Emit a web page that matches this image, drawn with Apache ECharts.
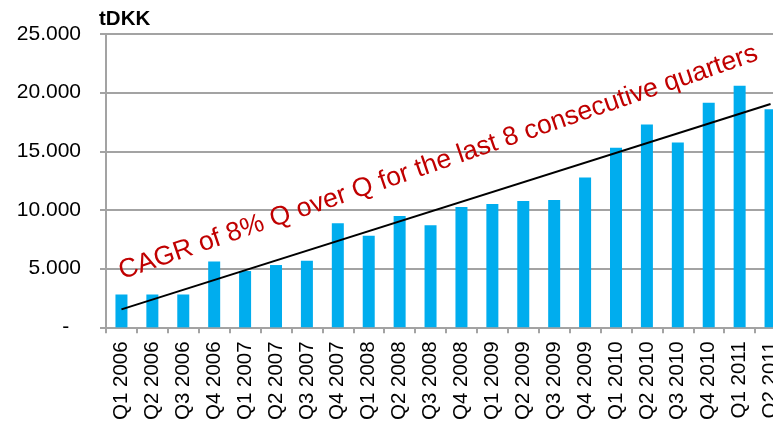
<!DOCTYPE html>
<html>
<head>
<meta charset="utf-8">
<script src="https://cdn.jsdelivr.net/npm/echarts@6/dist/echarts.min.js"></script>
<style>
  html, body { margin: 0; padding: 0; background: #ffffff; overflow: hidden; }
  #chart { width: 790px; height: 423px; }
</style>
</head>
<body>
<div id="chart"></div>
<script>
// Quarterly revenue in thousand DKK
const quarters = [
  'Q1 2006', 'Q2 2006', 'Q3 2006', 'Q4 2006',
  'Q1 2007', 'Q2 2007', 'Q3 2007', 'Q4 2007',
  'Q1 2008', 'Q2 2008', 'Q3 2008', 'Q4 2008',
  'Q1 2009', 'Q2 2009', 'Q3 2009', 'Q4 2009',
  'Q1 2010', 'Q2 2010', 'Q3 2010', 'Q4 2010',
  'Q1 2011', 'Q2 2011'
];
const revenue = [
  2800, 2800, 2800, 5620,
  4800, 5310, 5680, 8870,
  7800, 9490, 8700, 10250,
  10510, 10760, 10850, 12770,
  15310, 17290, 15760, 19150,
  20590, 18590
];
// Linear trend from first to last quarter
const trendStart = 1530;
const trendEnd = 19040;
const yTicks = { min: 0, max: 25000, interval: 5000 };
const unitLabel = 'tDKK';
const annotation = 'CAGR of 8% Q over Q for the last 8 consecutive quarters';

const FONT = 'Liberation Sans, Arial, sans-serif';
const GRID_GRAY = '#a3a3a3';

function fmtThousands(v) {
  if (v === 0) return '-  ';
  return String(v).replace(/\B(?=(\d{3})+(?!\d))/g, '.');
}

const chart = echarts.init(document.getElementById('chart'), null, { renderer: 'canvas' });

chart.setOption({
  backgroundColor: '#ffffff',
  animation: false,
  grid: { left: 106, top: 34, right: 4, bottom: 94, containLabel: false },
  xAxis: {
    type: 'category',
    data: quarters,
    boundaryGap: true,
    axisLine: { show: true, lineStyle: { color: GRID_GRAY, width: 2 } },
    axisTick: { show: true, interval: 0, length: 6, lineStyle: { color: GRID_GRAY, width: 2 } },
    axisLabel: {
      interval: 0, rotate: 90, margin: 14,
      color: '#000', fontFamily: FONT, fontSize: 20.5
    },
    splitLine: { show: false }
  },
  yAxis: {
    type: 'value',
    min: yTicks.min, max: yTicks.max, interval: yTicks.interval,
    name: unitLabel,
    nameLocation: 'end',
    nameGap: 4,
    nameTextStyle: { color: '#000', fontFamily: FONT, fontSize: 20.5, fontWeight: 'bold', align: 'left', padding: [0, 0, 0, -7] },
    axisLine: { show: true, lineStyle: { color: GRID_GRAY, width: 2 } },
    axisTick: { show: true, length: 6, lineStyle: { color: GRID_GRAY, width: 2 } },
    axisLabel: {
      margin: 25, color: '#000', fontFamily: FONT, fontSize: 21,
      formatter: fmtThousands
    },
    splitLine: { show: true, lineStyle: { color: GRID_GRAY, width: 2 } }
  },
  series: [
    {
      type: 'bar',
      data: revenue,
      barWidth: 12,
      itemStyle: { color: '#00adee' },
      z: 2
    },
    {
      type: 'line',
      data: [[quarters[0], trendStart], [quarters[quarters.length - 1], trendEnd]],
      symbol: 'none',
      lineStyle: { color: '#000', width: 2 },
      z: 3
    }
  ],
  graphic: [
    {
      type: 'text',
      x: 124,
      y: 285,
      rotation: 19 * Math.PI / 180,
      z: 10,
      style: {
        text: annotation,
        font: '26.6px ' + FONT,
        fill: '#c00000',
        textAlign: 'left',
        textVerticalAlign: 'bottom'
      }
    }
  ]
});
</script>
</body>
</html>
